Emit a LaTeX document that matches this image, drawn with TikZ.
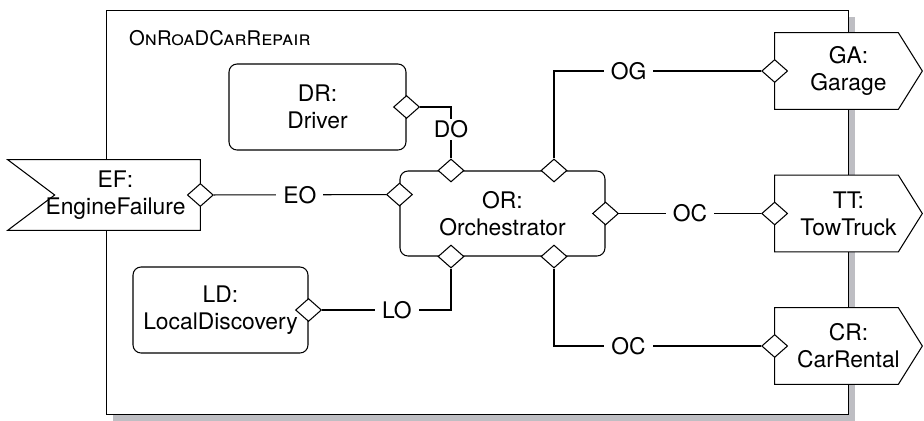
\documentclass[tikz,border=0pt]{standalone}
\usepackage{fontspec}
\setmainfont{TeX Gyre Heros}
\usetikzlibrary{positioning,shapes.geometric,calc,backgrounds}
\pgfdeclarelayer{outline}
\pgfsetlayers{background,outline,main}
\definecolor{sysShadow}{RGB}{190,190,195}
\newcommand{\rolefont}{\fontsize{13}{15.5}\selectfont}
\newcommand{\titlefont}{\fontsize{11.5}{13}\selectfont}
\tikzset{
  part/.style={draw, fill=white, line width=0.6pt, rounded corners=0.16cm,
        align=center, font=\rolefont, inner sep=0pt},
  sigbody/.style={align=center, font=\rolefont, inner sep=0pt},
  sigline/.style={draw, fill=white, line width=0.6pt},
  port/.style={diamond, draw, fill=white, line width=0.6pt, inner sep=0pt,
        minimum width=0.52cm, minimum height=0.46cm},
  conn/.style={line width=0.6pt},
  lab/.style={fill=white, font=\rolefont, inner xsep=4pt, inner ysep=1pt}
}

\begin{document}
\begin{tikzpicture}[x=0.02cm, y=-0.02cm]
\useasboundingbox (0,0) rectangle (924,420);

% system boundary
\begin{scope}[on background layer]
  \fill[sysShadow] (113,17) rectangle (855,421);
  \node[draw, fill=white, line width=0.6pt, anchor=north west, inner sep=0pt,
        minimum width=14.84cm, minimum height=8.08cm] (sys) at (106,10) {};
\end{scope}
\node[anchor=base west, font=\titlefont] (title) at (123,45) {\textsc{OnRoaDCarRepair}};

% parts
\node[part, minimum width=3.54cm, minimum height=1.72cm] (dr) at (317.5,107) {DR:\\Driver};
\node[part, minimum width=3.5cm, minimum height=1.72cm] (ld) at (220.5,310) {LD:\\LocalDiscovery};
\node[part, minimum width=4.1cm, minimum height=1.7cm] (or) at (502.5,213.5) {OR:\\Orchestrator};

% boundary signals
\node[sigbody, minimum width=3.38cm, minimum height=1.4cm] (ef) at (115.5,195) {EF:\\EngineFailure};
\node[sigbody, minimum width=2.94cm, minimum height=1.52cm] (ga) at (848.5,71) {GA:\\Garage};
\node[sigbody, minimum width=2.94cm, minimum height=1.52cm] (tt) at (848.5,213.5) {TT:\\TowTruck};
\node[sigbody, minimum width=2.94cm, minimum height=1.52cm] (cr) at (848.5,346) {CR:\\CarRental};
\begin{pgfonlayer}{outline}
  \draw[sigline] ([xshift=-0.46cm]ef.north west) -- (ef.north east) -- (ef.south east)
     -- ([xshift=-0.46cm]ef.south west) -- ([xshift=0.48cm]ef.west) -- cycle;
  \foreach \s in {ga,tt,cr}
    \draw[sigline] (\s.north west) -- ([xshift=-0.48cm]\s.north east) -- (\s.east)
       -- ([xshift=-0.48cm]\s.south east) -- (\s.south west) -- cycle;
\end{pgfonlayer}

% ports
\node[port] (efP) at (ef.east) {};
\node[port] (drP) at (dr.east) {};
\node[port] (ldP) at (ld.east) {};
\node[port] (orE) at ($(or.north west)!0.28!(or.south west)$) {};
\node[port] (orD) at ($(or.north west)!0.25!(or.north east)$) {};
\node[port] (orG) at ($(or.north west)!0.75!(or.north east)$) {};
\node[port] (orT) at (or.east) {};
\node[port] (orL) at ($(or.south west)!0.25!(or.south east)$) {};
\node[port] (orC) at ($(or.south west)!0.75!(or.south east)$) {};
\node[port] (gaP) at (ga.west) {};
\node[port] (ttP) at (tt.west) {};
\node[port] (crP) at (cr.west) {};

% connectors
\draw[conn] (efP) -- node[lab]{EO} (orE);
\draw[conn] (drP) -| node[lab, pos=0.72]{DO} (orD);
\draw[conn] (orG) |- node[lab, pos=0.68]{OG} (gaP);
\draw[conn] (orT) -- node[lab]{OC} (ttP);
\draw[conn] (orC) |- node[lab, pos=0.68]{OC} (crP);
\draw[conn] (ldP) -| node[lab, pos=0.29]{LO} (orL);
\end{tikzpicture}
\end{document}
